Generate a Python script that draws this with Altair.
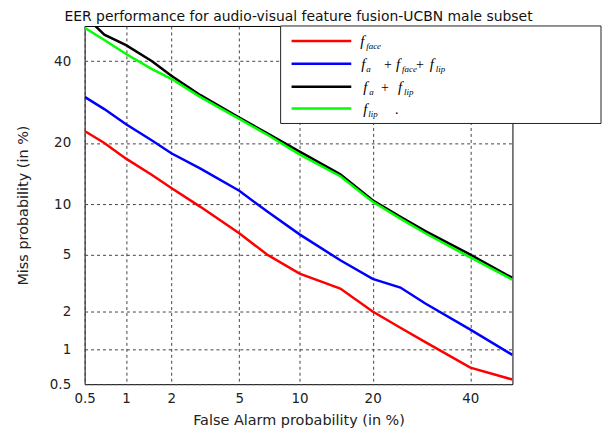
import altair as alt
import pandas as pd
from statistics import NormalDist

# ---------------- data (percent values) ----------------
false_alarm = [0.5, 0.7, 1, 1.5, 2, 3, 5, 7, 10, 15, 20, 25, 30, 40, 50]
miss_face = [22.5, 20, 17, 14.2, 12.2, 9.7, 6.8, 5.0, 3.75, 2.95, 2.0, 1.5, 1.15, 0.7, 0.55]
miss_all = [30.5, 27.5, 24, 20.5, 18, 15.3, 11.8, 9.1, 6.7, 4.6, 3.45, 3.0, 2.3, 1.45, 0.9]
miss_a_lip = [53, 47.5, 44.5, 40, 36, 31, 25.5, 22, 18.3, 14.3, 10.5, 8.5, 7.0, 5.0, 3.5]
miss_lip = [49.5, 46, 42, 37.8, 35.2, 30.5, 25.2, 21.7, 17.8, 14.0, 10.3, 8.3, 6.8, 4.8, 3.4]

series_names = ["f_face", "f_a + f_face + f_lip", "f_a + f_lip", "f_lip"]
series_values = [miss_face, miss_all, miss_a_lip, miss_lip]
series_colors = ["#ff0000", "#0000ff", "#000000", "#00ff00"]

tick_pct = [0.5, 1, 2, 5, 10, 20, 40]
axis_min_pct, axis_max_pct = 0.5, 50

title_text = "EER performance for  audio-visual feature fusion-UCBN male subset"
x_title = "False Alarm probability (in %)"
y_title = "Miss probability (in %)"

# legend label pieces: (text, kind, x offset)
legend_pieces = [
    [("f", "m", 277), ("face", "s", 283)],
    [("f", "m", 278), ("a", "s", 283), ("+", "p", 301), ("f", "m", 313), ("face", "s", 319),
     ("+", "p", 333), ("f", "m", 347), ("lip", "s", 353)],
    [("f", "m", 280), ("a", "s", 286), ("+", "p", 298), ("f", "m", 315), ("lip", "s", 321)],
    [("f", "m", 280), ("lip", "s", 285), (".", "p", 312)],
]

# ---------------- build ----------------
nd = NormalDist()
tick_pos = [nd.inv_cdf(p / 100) for p in tick_pct]
dom = [nd.inv_cdf(axis_min_pct / 100), nd.inv_cdf(axis_max_pct / 100)]
label_expr = "format(cumulativeNormal(datum.value)*100, '.1~f')"

rows = []
for name, vals in zip(series_names, series_values):
    for fa, m in zip(false_alarm, vals):
        rows.append({"series": name, "fa": fa, "miss": m})
df = pd.DataFrame(rows)

color_scale = alt.Scale(domain=series_names, range=series_colors)

x_enc = alt.X(
    "px:Q",
    scale=alt.Scale(domain=dom, nice=False, zero=False),
    axis=alt.Axis(values=tick_pos, labelExpr=label_expr, title=x_title),
)
y_enc = alt.Y(
    "py:Q",
    scale=alt.Scale(domain=dom, nice=False, zero=False),
    axis=alt.Axis(values=tick_pos, labelExpr=label_expr, title=y_title),
)

layers = []
for name in series_names:
    layers.append(
        alt.Chart(df)
        .transform_filter(alt.datum.series == name)
        .transform_calculate(
            px="quantileNormal(datum.fa/100)", py="quantileNormal(datum.miss/100)"
        )
        .mark_line(strokeWidth=2.5, clip=True)
        .encode(
            x=x_enc,
            y=y_enc,
            color=alt.Color("series:N", scale=color_scale, legend=None),
        )
    )

dummy = alt.Data(values=[{"k": 0}])

# legend box
layers.append(
    alt.Chart(dummy)
    .mark_rect(fill="white", stroke="#222222", strokeWidth=1)
    .encode(x=alt.value(197), x2=alt.value(519), y=alt.value(0), y2=alt.value(98))
)

row_y = [15, 38, 61, 83]
for i, name in enumerate(series_names):
    layers.append(
        alt.Chart(dummy)
        .mark_rule(strokeWidth=2.5, color=series_colors[i])
        .encode(x=alt.value(208), x2=alt.value(268), y=alt.value(row_y[i]))
    )
    for text, kind, xo in legend_pieces[i]:
        if kind == "s":
            size, dy, style = 9, 8, "italic"
        elif kind == "m":
            size, dy, style = 15, 5, "italic"
        else:
            size, dy, style = 14, 5, "normal"
        layers.append(
            alt.Chart(dummy)
            .mark_text(
                align="left",
                baseline="alphabetic",
                font="Liberation Serif",
                fontStyle=style,
                fontSize=size,
                color="#000000",
            )
            .encode(x=alt.value(xo), y=alt.value(row_y[i] + dy), text=alt.value(text))
        )

chart = (
    alt.layer(*layers)
    .properties(
        width=430,
        height=360,
        autosize=alt.AutoSizeParams(type="none"),
        padding={"left": 77, "top": 17, "right": 90, "bottom": 45},
        title=alt.TitleParams(
            title_text,
            anchor="middle",
            font="DejaVu Sans",
            fontSize=14,
            fontWeight="normal",
            color="#111111",
            offset=1,
        ),
    )
    .configure_view(stroke="#000000", strokeWidth=1)
    .configure_axis(
        domain=False,
        ticks=False,
        tickSize=0,
        labelFlush=False,
        grid=True,
        gridDash=[3, 3],
        gridColor="#444444",
        gridWidth=1,
        gridOpacity=1,
        labelFont="DejaVu Sans",
        labelFontSize=13.5,
        labelColor="#222222",
        titleFont="DejaVu Sans",
        titleFontSize=14.5,
        titleFontWeight="normal",
        titleColor="#222222",
    )
    .configure_axisX(labelPadding=7, titlePadding=9)
    .configure_axisY(labelPadding=14, titlePadding=19)
)

chart.save("out.html", embed_options={"renderer": "svg", "actions": False})
